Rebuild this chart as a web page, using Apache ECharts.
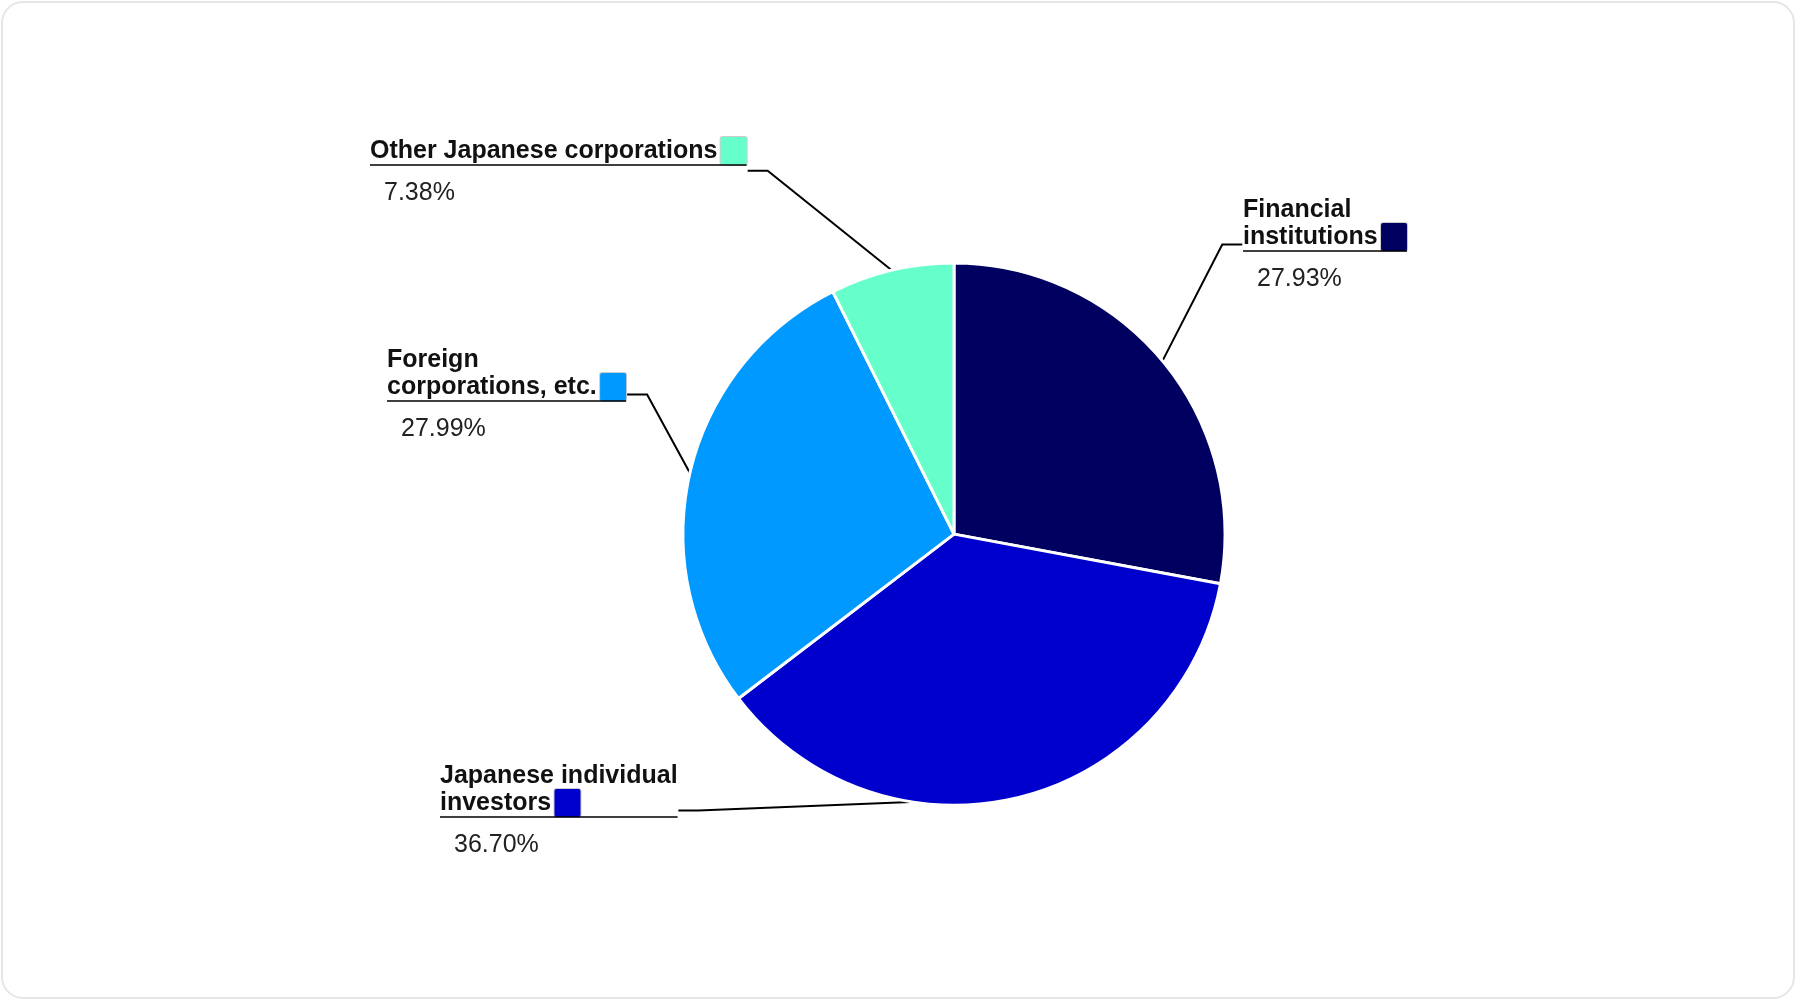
<!DOCTYPE html>
<html><head><meta charset="utf-8">
<script src="https://cdn.jsdelivr.net/npm/echarts@6/dist/echarts.min.js"></script>
<style>
html,body{margin:0;padding:0;background:#fff;}
#wrap{position:absolute;left:1px;top:1px;width:1794px;height:998px;border:2px solid #e6e6e6;border-radius:22px;box-sizing:border-box;}
#c{width:1800px;height:1004px;position:absolute;left:0;top:0;}
</style></head><body>
<div id="wrap"></div><div id="c"></div>
<script>
const categories = ["Financial institutions", "Japanese individual investors", "Foreign corporations, etc.", "Other Japanese corporations"];
const nameLines = [["Financial", "institutions"], ["Japanese individual", "investors"], ["Foreign", "corporations, etc."], ["Other Japanese corporations"]];
const values = [27.93, 36.70, 27.99, 7.38];
const colors = ["#000060", "#0000CC", "#0099FF", "#66FFCC"];
// label anchor spots (top-left of each label block)
const labelSpots = [[1243, 197], [440, 763], [387, 347], [370, 137]];

const chart = echarts.init(document.getElementById('c'));
const data = categories.map((c, i) => ({
  name: c, value: values[i], itemStyle: { color: colors[i] },
  label: { rich: { box: { backgroundColor: colors[i], width: 26, height: 28, borderColor: '#ccc', borderWidth: 1, borderRadius: 2 } } }
}));
chart.setOption({
  animation: false,
  series: [{
    type: 'pie',
    center: ['53%', '53.2%'],
    radius: '54%',
    startAngle: 90,
    clockwise: true,
    data: data,
    itemStyle: { borderColor: '#fff', borderWidth: 3 },
    labelLine: { show: true, length: 40, length2: 20, lineStyle: { color: '#000', width: 2 } },
    labelLayout: function (p) {
      const s = labelSpots[p.dataIndex];
      return { x: s[0], y: s[1], align: 'left', verticalAlign: 'top' };
    },
    label: {
      show: true,
      fontFamily: 'Liberation Sans, Arial',
      color: '#111',
      formatter: function (p) {
        const lines = nameLines[p.dataIndex];
        let s = lines.map((l, k) => '{name|' + l + '}' + (k === lines.length - 1 ? ' {box|}' : '')).join('\n');
        return s + '\n{hr|}\n{pct|' + values[p.dataIndex].toFixed(2) + '%}';
      },
      rich: {
        name: { fontWeight: 'bold', fontSize: 25, lineHeight: 26, color: '#111', fontFamily: 'Liberation Sans, Arial', align: 'left' },
        hr: { borderColor: '#000', width: '100%', borderWidth: 1.5, height: 0 },
        pct: { fontSize: 25, lineHeight: 56, color: '#222', fontFamily: 'Liberation Sans, Arial', padding: [0, 0, 0, 14] }
      }
    }
  }]
});
</script></body></html>
